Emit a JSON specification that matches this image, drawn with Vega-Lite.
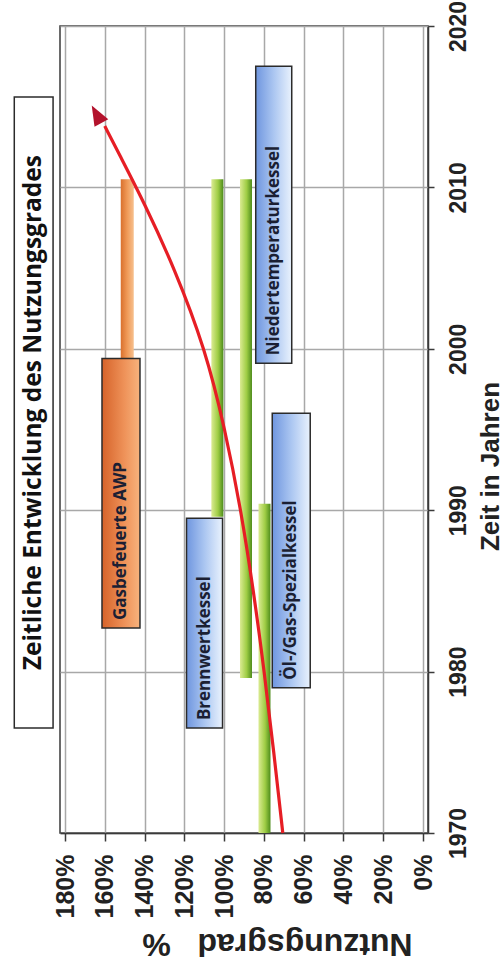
{
  "$schema": "https://vega.github.io/schema/vega-lite/v6.json",
  "autosize": {"type": "none"},
  "padding": {"left": 60, "top": 26, "right": 76, "bottom": 137},
  "width": 368,
  "height": 807,
  "background": "white",
  "config": {
    "view": {"stroke": "#3a3a3a", "strokeWidth": 1.5},
    "axis": {"labelColor": "#222", "titleColor": "#222"}
  },
  "datasets": {
    "bars": [
      {"name": "Gasbefeuerte AWP", "kind": "orange", "p": 148.7, "y0": 1999.0, "y1": 2010.5},
      {"name": "Brennwertkessel", "kind": "green", "p": 103.4, "y0": 1989.6, "y1": 2010.5},
      {"name": "Niedertemperaturkessel", "kind": "green", "p": 89.0, "y0": 1979.6, "y1": 2010.5},
      {"name": "Öl-/Gas-Spezialkessel", "kind": "green", "p": 79.7, "y0": 1970.0, "y1": 1990.4}
    ],
    "boxes": [
      {"label": "Gasbefeuerte AWP", "kind": "orange", "p0": 161.4, "p1": 142.3, "y0": 1982.7, "y1": 1999.4},
      {"label": "Brennwertkessel", "kind": "blue", "p0": 118.9, "p1": 100.8, "y0": 1976.5, "y1": 1989.5},
      {"label": "Niedertemperaturkessel", "kind": "blue", "p0": 84.1, "p1": 66.0, "y0": 1999.1, "y1": 2017.5},
      {"label": "Öl-/Gas-Spezialkessel", "kind": "blue", "p0": 75.8, "p1": 56.7, "y0": 1979.0, "y1": 1996.0}
    ],
    "titlebox": [
      {"label": "Zeitliche Entwicklung des Nutzungsgrades", "p0": 205.5, "p1": 186.0, "y0": 1976.5, "y1": 2015.6}
    ],
    "curve": [
      {"year": 1970.0, "p": 70.5},
      {"year": 1975.0, "p": 75.0},
      {"year": 1980.0, "p": 79.8},
      {"year": 1985.0, "p": 85.2},
      {"year": 1990.0, "p": 91.5},
      {"year": 1995.0, "p": 99.5},
      {"year": 2000.0, "p": 109.5},
      {"year": 2005.0, "p": 125.0},
      {"year": 2009.0, "p": 140.0},
      {"year": 2012.0, "p": 152.5},
      {"year": 2013.8, "p": 160.0}
    ],
    "arrow": [
      {"year": 2014.5, "p": 164.0}
    ]
  },
  "layer": [
    {
      "data": {"name": "bars"},
      "transform": [{"filter": "datum.kind === 'green'"}],
      "mark": {
        "type": "bar", "orient": "vertical", "width": 12,
        "color": {"gradient": "linear", "x1": 0, "y1": 0, "x2": 1, "y2": 0,
          "stops": [{"offset": 0, "color": "#dbeb93"}, {"offset": 0.55, "color": "#9fcd45"}, {"offset": 1, "color": "#4e8c1c"}]}
      },
      "encoding": {
        "x": {
          "field": "p", "type": "quantitative",
          "scale": {"domain": [0, 180], "reverse": true, "nice": false, "zero": false},
          "axis": {
            "values": [0, 20, 40, 60, 80, 100, 120, 140, 160, 180],
            "labelExpr": "datum.value + '%'",
            "labelAngle": -90, "labelAlign": "right", "labelBaseline": "middle",
            "labelFont": "Liberation Sans Narrow, Liberation Sans", "labelFontWeight": "bold", "labelFontSize": 25,
            "labelPadding": 13, "labelOverlap": false, "labelFlush": false,
            "tickSize": 8, "tickColor": "#3a3a3a", "tickWidth": 1.5,
            "domainColor": "#3a3a3a", "domainWidth": 1.5,
            "grid": true, "gridColor": "#a8a8a8", "gridWidth": 1.5,
            "title": "Nutzungsgrad\u00a0\u00a0\u00a0%",
            "titleAngle": 180, "titleAlign": "center", "titleBaseline": "middle",
            "titleFont": "Liberation Sans", "titleFontWeight": "bold", "titleFontSize": 32,
            "titleX": 217, "titleY": 110
          }
        },
        "y": {
          "field": "y0", "type": "quantitative",
          "scale": {"domain": [1970, 2020], "nice": false, "zero": false},
          "axis": {
            "orient": "right",
            "values": [1970, 1980, 1990, 2000, 2010, 2020],
            "format": "d",
            "labelAngle": -90, "labelAlign": "center", "labelBaseline": "top",
            "labelFont": "Liberation Sans Narrow, Liberation Sans", "labelFontWeight": "bold", "labelFontSize": 23,
            "labelPadding": 13, "labelOverlap": false, "labelFlush": false,
            "tickSize": 6, "tickColor": "#3a3a3a", "tickWidth": 1.5,
            "domainColor": "#3a3a3a", "domainWidth": 1.5,
            "grid": true, "gridColor": "#a8a8a8", "gridWidth": 1.5,
            "title": "Zeit in Jahren",
            "titleAngle": -90, "titleAlign": "center", "titleBaseline": "middle",
            "titleFont": "Liberation Sans Narrow, Liberation Sans", "titleFontWeight": "bold", "titleFontSize": 26,
            "titleX": 62, "titleY": 440
          }
        },
        "y2": {"field": "y1"}
      }
    },
    {
      "data": {"name": "bars"},
      "transform": [{"filter": "datum.kind === 'orange'"}],
      "mark": {
        "type": "bar", "orient": "vertical", "width": 13,
        "color": {"gradient": "linear", "x1": 0, "y1": 0, "x2": 1, "y2": 0,
          "stops": [{"offset": 0, "color": "#d9702d"}, {"offset": 0.5, "color": "#f09a58"}, {"offset": 1, "color": "#f6c08e"}]}
      },
      "encoding": {
        "x": {"field": "p", "type": "quantitative"},
        "y": {"field": "y0", "type": "quantitative"},
        "y2": {"field": "y1"}
      }
    },
    {
      "data": {"name": "boxes"},
      "transform": [{"filter": "datum.kind === 'blue'"}],
      "mark": {
        "type": "rect", "stroke": "#2b2b2b", "strokeWidth": 1.5,
        "fill": {"gradient": "linear", "x1": 0, "y1": 0, "x2": 1, "y2": 0,
          "stops": [{"offset": 0, "color": "#6f96df"}, {"offset": 0.5, "color": "#abc6f1"}, {"offset": 1, "color": "#e9f2fd"}]}
      },
      "encoding": {
        "x": {"field": "p0", "type": "quantitative"},
        "x2": {"field": "p1"},
        "y": {"field": "y0", "type": "quantitative"},
        "y2": {"field": "y1"}
      }
    },
    {
      "data": {"name": "boxes"},
      "transform": [{"filter": "datum.kind === 'orange'"}],
      "mark": {
        "type": "rect", "stroke": "#2b2b2b", "strokeWidth": 1.5,
        "fill": {"gradient": "linear", "x1": 0, "y1": 0, "x2": 1, "y2": 0,
          "stops": [{"offset": 0, "color": "#d6632a"}, {"offset": 0.6, "color": "#ef935a"}, {"offset": 1, "color": "#f7b37d"}]}
      },
      "encoding": {
        "x": {"field": "p0", "type": "quantitative"},
        "x2": {"field": "p1"},
        "y": {"field": "y0", "type": "quantitative"},
        "y2": {"field": "y1"}
      }
    },
    {
      "data": {"name": "boxes"},
      "transform": [{"calculate": "(datum.p0 + datum.p1) / 2", "as": "pm"}],
      "mark": {
        "type": "text", "angle": -90, "align": "left", "baseline": "middle", "dx": 8,
        "font": "Open Sans", "fontWeight": "bold", "fontSize": 17, "color": "#1b1f33"
      },
      "encoding": {
        "x": {"field": "pm", "type": "quantitative"},
        "y": {"field": "y0", "type": "quantitative"},
        "text": {"field": "label"}
      }
    },
    {
      "data": {"name": "titlebox"},
      "mark": {"type": "rect", "fill": "white", "stroke": "#2b2b2b", "strokeWidth": 1.5},
      "encoding": {
        "x": {"field": "p0", "type": "quantitative"},
        "x2": {"field": "p1"},
        "y": {"field": "y0", "type": "quantitative"},
        "y2": {"field": "y1"}
      }
    },
    {
      "data": {"name": "titlebox"},
      "transform": [
        {"calculate": "(datum.p0 + datum.p1) / 2", "as": "pm"},
        {"calculate": "(datum.y0 + datum.y1) / 2", "as": "ym"}
      ],
      "mark": {
        "type": "text", "angle": -90, "align": "center", "baseline": "middle",
        "font": "Open Sans", "fontWeight": "bold", "fontSize": 24.5, "color": "#111"
      },
      "encoding": {
        "x": {"field": "pm", "type": "quantitative"},
        "y": {"field": "ym", "type": "quantitative"},
        "text": {"field": "label"}
      }
    },
    {
      "data": {"name": "curve"},
      "mark": {"type": "line", "color": "#e61e25", "strokeWidth": 3.2, "interpolate": "basis"},
      "encoding": {
        "x": {"field": "p", "type": "quantitative"},
        "y": {"field": "year", "type": "quantitative"},
        "order": {"field": "year", "type": "quantitative"}
      }
    },
    {
      "data": {"name": "arrow"},
      "mark": {"type": "point", "shape": "M0,-1L0.75,0.9L-0.75,0.9Z", "filled": true, "size": 440, "angle": -29, "color": "#b3122c", "opacity": 1},
      "encoding": {
        "x": {"field": "p", "type": "quantitative"},
        "y": {"field": "year", "type": "quantitative"}
      }
    }
  ]
}
